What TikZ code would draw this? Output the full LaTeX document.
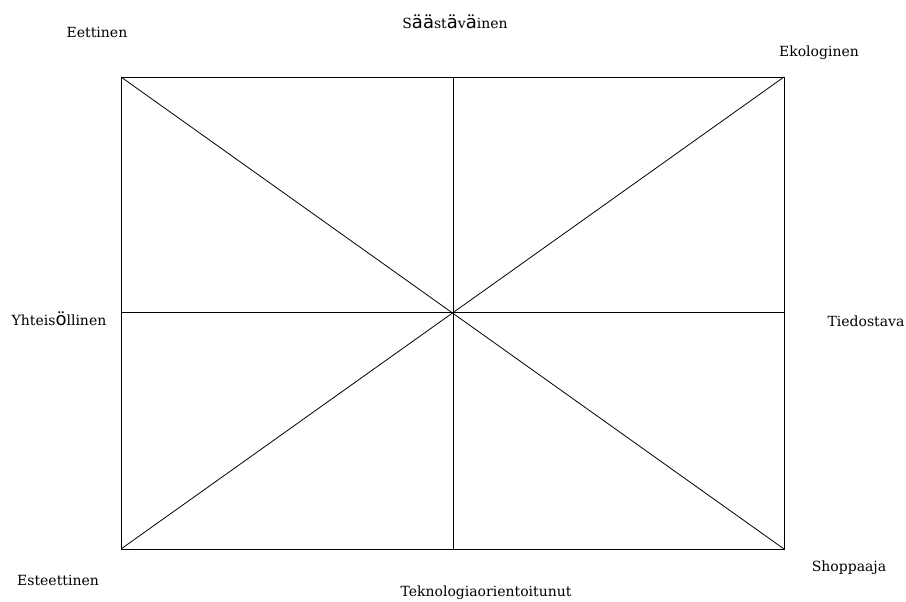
\documentclass[tikz,border=0pt]{standalone}
\usepackage{fontspec}
\setmainfont{DejaVu Serif}
\newfontfamily\umlfont{DejaVu Sans}
\tikzset{
  lbl/.style={font=\fontsize{10.5}{12}\selectfont, inner sep=0pt, text=black},
  frame/.style={draw=black, line width=0.6pt},
  grid/.style={draw=black, line width=0.6pt}
}
\newcommand{\bigA}{{\umlfont\fontsize{13.5}{14}\selectfont ä}}
\newcommand{\bigO}{{\umlfont\fontsize{13.5}{14}\selectfont ö}}
\begin{document}
\begin{tikzpicture}[x=0.75pt,y=-0.75pt]
\useasboundingbox[fill=white] (0,0) rectangle (906,602);
\coordinate (tl) at (121,77);
\coordinate (tr) at (784,77);
\coordinate (bl) at (121,549);
\coordinate (br) at (784,549);
\coordinate (tm) at (453,77);
\coordinate (bm) at (453,549);
\coordinate (lm) at (121,312);
\coordinate (rm) at (784,312);
\draw[frame] (tl) rectangle (br);
\draw[grid] (tm) -- (bm);
\draw[grid] (lm) -- (rm);
\draw[grid] (tl) -- (br);
\draw[grid] (bl) -- (tr);
\node[lbl] (eettinen) at (97,32) {Eettinen};
\node[lbl] (saast) at (455,22) {S\bigA\bigA st\bigA v\bigA inen};
\node[lbl] (ekologinen) at (819,53) {Ekologinen};
\node[lbl] (yhteis) at (59,319) {Yhteis\bigO llinen};
\node[lbl] (tiedostava) at (866,321) {Tiedostava};
\node[lbl] (esteettinen) at (58,580) {Esteettinen};
\node[lbl] (tekno) at (486,593) {Teknologiaorientoitunut};
\node[lbl] (shoppaaja) at (849,568) {Shoppaaja};
\end{tikzpicture}
\end{document}
